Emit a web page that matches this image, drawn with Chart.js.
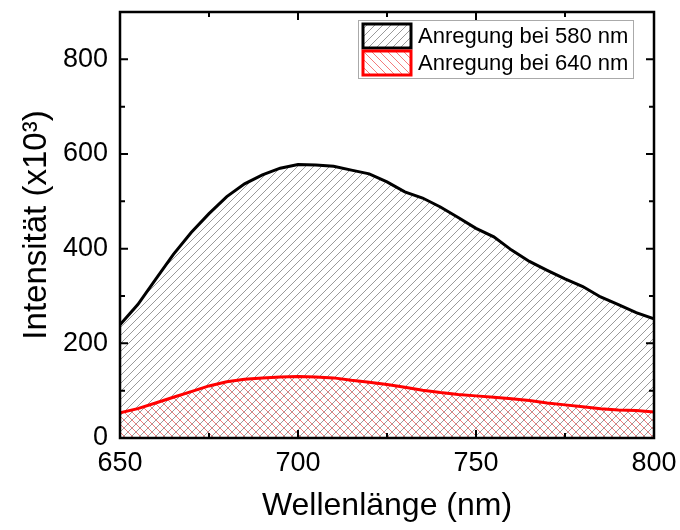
<!DOCTYPE html>
<html>
<head>
<meta charset="utf-8">
<script src="https://cdn.jsdelivr.net/npm/chart.js@4"></script>
<style>
  html, body { margin: 0; padding: 0; background: #fff; }
  #wrap { width: 680px; height: 530px; }
</style>
</head>
<body>
<div id="wrap"><canvas id="chart" width="680" height="530"></canvas></div>
<script>
// --- data ---
const wavelengths = [650, 655, 660, 665, 670, 675, 680, 685, 690, 695, 700, 705, 710, 715, 720, 725,
                     730, 735, 740, 745, 750, 755, 760, 765, 770, 775, 780, 785, 790, 795, 800];
const exc580 = [239, 282, 335, 388, 434, 474, 510, 537, 556, 570, 578, 577, 574, 566, 558, 541,
                520, 507, 488, 466, 443, 425, 397, 373, 354, 336, 320, 298, 282, 265, 252];
const exc640 = [53, 62, 74, 86, 98, 110, 119, 124, 127, 129, 130, 129, 127, 122, 118, 113,
                107, 101, 96, 92, 89, 86, 83, 79, 74, 70, 66, 62, 59, 58, 55];
const seriesLabels = ['Anregung bei 580 nm', 'Anregung bei 640 nm'];
const xTicks = [650, 700, 750, 800];
const yTicks = [0, 200, 400, 600, 800];

const FONT = 'Arial, "Liberation Sans", sans-serif';

// hatch patterns, transparent background so they overlap into a cross-hatch
function hatch(color, forward) {
    const s = 8;
    const c = document.createElement('canvas');
    c.width = s; c.height = s;
    const g = c.getContext('2d');
    g.strokeStyle = color;
    g.lineWidth = 1;
    g.beginPath();
    if (forward) {
        g.moveTo(0, s); g.lineTo(s, 0);
        g.moveTo(-1, 1); g.lineTo(1, -1);
        g.moveTo(s - 1, s + 1); g.lineTo(s + 1, s - 1);
    } else {
        g.moveTo(0, 0); g.lineTo(s, s);
        g.moveTo(-1, s - 1); g.lineTo(1, s + 1);
        g.moveTo(s - 1, -1); g.lineTo(s + 1, 1);
    }
    g.stroke();
    return g.createPattern(c, 'repeat');
}

const ctx = document.getElementById('chart').getContext('2d');
const greyHatch = hatch('#9a9a9a', true);
const redHatch = hatch('rgba(240,90,90,0.8)', false);

// frame, inward ticks on all four sides, legend inside the plot
const framePlugin = {
    id: 'frame',
    afterDatasetsDraw(chart) {
        const { ctx, chartArea: a, scales: { x, y } } = chart;
        ctx.save();
        ctx.strokeStyle = '#000';
        ctx.lineWidth = 2;
        ctx.beginPath();
        for (let v = 650; v <= 800; v += 25) {
            const px = x.getPixelForValue(v);
            const len = v % 50 === 0 ? 8 : 5;
            ctx.moveTo(px, a.bottom); ctx.lineTo(px, a.bottom - len);
            ctx.moveTo(px, a.top); ctx.lineTo(px, a.top + len);
        }
        for (let v = 0; v <= 900; v += 100) {
            const py = y.getPixelForValue(v);
            const len = v % 200 === 0 ? 8 : 5;
            ctx.moveTo(a.left, py); ctx.lineTo(a.left + len, py);
            ctx.moveTo(a.right, py); ctx.lineTo(a.right - len, py);
        }
        ctx.stroke();
        ctx.lineWidth = 2.5;
        ctx.strokeRect(a.left, a.top, a.right - a.left, a.bottom - a.top);

        // legend
        const lx = 358, ly = 20, lw = 275, lh = 58;
        ctx.fillStyle = '#fff';
        ctx.fillRect(lx, ly, lw, lh);
        ctx.lineWidth = 1;
        ctx.strokeStyle = '#aaa';
        ctx.strokeRect(lx + 0.5, ly + 0.5, lw, lh);
        chart.data.datasets.forEach((ds, i) => {
            const by = 24 + i * 27;
            ctx.fillStyle = ds.backgroundColor;
            ctx.fillRect(363, by, 48, 24);
            ctx.lineWidth = 3;
            ctx.strokeStyle = ds.borderColor;
            ctx.strokeRect(363, by, 48, 24);
            ctx.fillStyle = '#000';
            ctx.font = '22px ' + FONT;
            ctx.textBaseline = 'middle';
            ctx.fillText(ds.label, 418, by + 13);
        });
        ctx.restore();
    }
};

new Chart(ctx, {
    type: 'line',
    data: {
        labels: wavelengths,
        datasets: [
            {
                label: seriesLabels[0],
                data: wavelengths.map((w, i) => ({ x: w, y: exc580[i] })),
                borderColor: '#000',
                backgroundColor: greyHatch,
                borderWidth: 3,
                pointRadius: 0,
                fill: 'origin',
                order: 2
            },
            {
                label: seriesLabels[1],
                data: wavelengths.map((w, i) => ({ x: w, y: exc640[i] })),
                borderColor: '#ff0000',
                backgroundColor: redHatch,
                borderWidth: 3,
                pointRadius: 0,
                fill: 'origin',
                order: 1
            }
        ]
    },
    options: {
        responsive: false,
        animation: false,
        layout: { padding: { left: 0, top: 12, right: 26, bottom: 0 } },
        plugins: { legend: { display: false }, tooltip: { enabled: false } },
        scales: {
            x: {
                type: 'linear',
                min: 650, max: 800,
                afterBuildTicks: s => { s.ticks = xTicks.map(v => ({ value: v })); },
                afterFit: s => { s.height = 92; s.paddingLeft = 0; s.paddingRight = 0; },
                grid: { display: false, drawTicks: false },
                border: { display: false },
                ticks: { color: '#000', font: { family: FONT, size: 27 }, padding: 9, maxRotation: 0 },
                title: { display: true, text: 'Wellenlänge (nm)', color: '#000', font: { family: FONT, size: 32 }, padding: 5 }
            },
            y: {
                min: 0, max: 900,
                afterBuildTicks: s => { s.ticks = yTicks.map(v => ({ value: v })); },
                afterFit: s => { s.width = 120; s.paddingTop = 0; s.paddingBottom = 0; },
                grid: { display: false, drawTicks: false },
                border: { display: false },
                ticks: { color: '#000', font: { family: FONT, size: 27 }, padding: 12 },
                title: { display: true, text: 'Intensität (x10³)', color: '#000', font: { family: FONT, size: 33 }, padding: 17 }
            }
        }
    },
    plugins: [framePlugin]
});
</script>
</body>
</html>
